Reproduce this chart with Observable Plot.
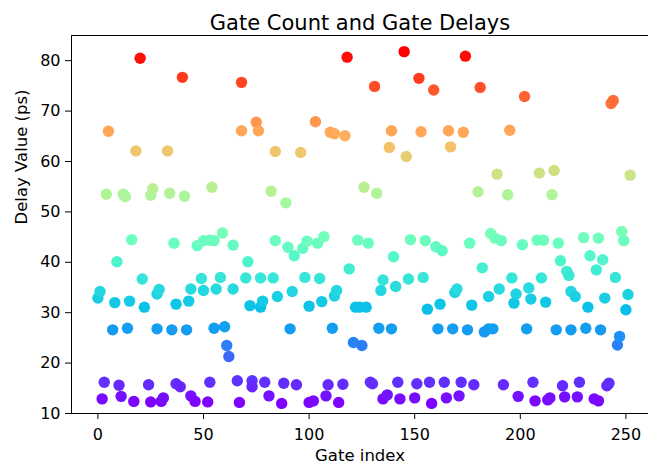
<!DOCTYPE html>
<html>
<head>
<meta charset="utf-8">
<script src="https://cdn.jsdelivr.net/npm/d3@7"></script>
<script src="https://cdn.jsdelivr.net/npm/@observablehq/plot@0.6"></script>
<style>
  html, body { margin: 0; padding: 0; background: #fff; overflow: hidden; }
  svg { display: block; }
</style>
</head>
<body>
<div id="chart"></div>
<script>
const titleText = "Gate Count and Gate Delays";
const xLabel = "Gate index";
const yLabel = "Delay Value (ps)";
const xTicks = [0, 50, 100, 150, 200, 250];
const yTicks = [10, 20, 30, 40, 50, 60, 70, 80];

const gateIndex = [
  0, 1, 2, 3, 4, 5, 7, 8, 9, 10, 11, 12, 13, 14, 15, 16, 17, 18, 20, 21,
  22, 24, 25, 25, 26, 28, 28, 29, 30, 31, 33, 34, 35, 36, 37, 37, 39, 40, 41, 42,
  43, 44, 44, 46, 47, 49, 50, 50, 52, 53, 53, 54, 55, 55, 56, 58, 59, 60, 61, 62,
  64, 64, 66, 67, 68, 68, 70, 71, 72, 73, 73, 75, 76, 77, 77, 78, 79, 81, 82, 83,
  84, 84, 85, 87, 88, 89, 90, 91, 92, 93, 94, 96, 97, 98, 99, 100, 100, 102, 103, 104,
  105, 106, 107, 108, 109, 110, 111, 112, 112, 113, 114, 116, 117, 118, 119, 121, 122, 123, 124, 125,
  126, 127, 128, 129, 130, 131, 132, 133, 134, 135, 135, 137, 138, 139, 139, 140, 141, 142, 143, 145,
  146, 147, 148, 150, 151, 152, 153, 154, 155, 156, 157, 158, 159, 160, 161, 162, 163, 164, 165, 166,
  167, 168, 169, 170, 171, 172, 173, 174, 175, 176, 177, 178, 180, 181, 182, 183, 185, 185, 186, 187,
  188, 189, 190, 191, 192, 194, 195, 196, 197, 198, 199, 201, 202, 203, 204, 205, 206, 207, 208, 209,
  210, 211, 212, 213, 214, 215, 216, 217, 218, 219, 220, 221, 222, 223, 224, 224, 226, 227, 228, 230,
  231, 232, 233, 235, 236, 237, 237, 238, 239, 240, 241, 242, 243, 244, 245, 246, 247, 248, 249, 250,
  251, 252
];

const delayValue = [
  32.9, 34.2, 12.9, 16.2, 53.5, 66.0, 26.6, 32.0, 40.1, 15.6, 13.4, 53.5, 53.0, 26.9, 32.3, 44.5, 12.4, 62.1, 80.5, 36.7,
  31.1, 15.7, 12.3, 53.3, 54.6, 26.8, 33.7, 34.6, 12.4, 13.1, 62.1, 53.7, 26.6, 43.8, 31.7, 15.9, 15.3, 76.7, 53.1, 26.6,
  32.3, 34.7, 13.5, 12.4, 43.3, 36.8, 34.4, 44.3, 12.3, 16.2, 44.4, 54.9, 44.3, 26.9, 34.7, 37.0, 45.8, 27.2, 23.5, 21.3,
  43.4, 34.7, 16.5, 12.2, 75.7, 66.1, 36.9, 40.1, 31.4, 16.5, 15.3, 67.8, 66.1, 36.9, 31.1, 32.3, 16.2, 13.5, 54.1, 36.9,
  44.3, 62.0, 33.2, 12.0, 16.0, 51.8, 43.0, 26.8, 34.2, 41.3, 15.7, 61.8, 42.8, 37.0, 44.2, 31.3, 12.2, 12.5, 67.9, 43.8,
  36.8, 32.2, 45.1, 13.5, 15.7, 65.8, 26.9, 65.5, 33.3, 34.4, 12.2, 15.8, 65.1, 80.7, 38.7, 24.1, 31.1, 44.4, 31.1, 23.5,
  54.9, 31.1, 43.8, 16.2, 15.9, 74.9, 53.7, 26.9, 34.4, 36.5, 12.9, 13.7, 62.8, 66.1, 26.8, 41.1, 35.2, 16.2, 12.9, 81.8,
  61.0, 36.7, 44.5, 13.1, 15.9, 76.5, 65.9, 37.0, 44.3, 30.7, 16.2, 12.0, 74.2, 43.1, 26.8, 31.7, 42.3, 16.2, 13.1, 66.1,
  62.9, 26.8, 34.0, 34.7, 13.5, 16.2, 65.8, 80.9, 26.6, 43.8, 31.5, 15.7, 54.0, 74.7, 38.9, 26.2, 33.2, 26.8, 45.7, 26.8,
  44.8, 57.5, 34.7, 44.3, 15.7, 53.4, 66.2, 36.9, 31.9, 33.7, 13.4, 43.5, 72.9, 26.8, 34.9, 32.7, 16.2, 12.5, 44.4, 57.7,
  36.9, 44.4, 32.1, 12.7, 13.1, 53.4, 58.2, 26.6, 43.8, 40.3, 15.5, 13.3, 38.2, 37.4, 26.6, 34.2, 33.2, 13.3, 16.2, 44.9,
  26.9, 31.1, 41.3, 12.9, 38.5, 44.8, 12.5, 26.6, 40.5, 32.9, 15.5, 16.0, 71.5, 72.1, 37.0, 23.6, 25.3, 46.1, 44.3, 30.6,
  33.6, 57.3
];

const data = gateIndex.map((g, i) => ({gate: g, delay: delayValue[i]}));

// matplotlib "rainbow" colormap
const mplRainbow = t => {
  const r = Math.max(0, Math.min(1, Math.abs(2 * t - 0.5)));
  const g = Math.max(0, Math.sin(Math.PI * t));
  const b = Math.max(0, Math.cos(Math.PI * t / 2));
  return `rgb(${Math.round(r * 255)},${Math.round(g * 255)},${Math.round(b * 255)})`;
};

const font = "DejaVu Sans, sans-serif";

const chart = Plot.plot({
  width: 648,
  height: 469,
  marginLeft: 71,
  marginRight: 0,
  marginTop: 35,
  marginBottom: 56,
  x: {domain: [-12.5, 260.7]},
  y: {domain: [10, 85]},
  color: {type: "linear", domain: d3.extent(delayValue), interpolate: mplRainbow},
  style: {fontFamily: font, fontSize: "16px", color: "#000", background: "#fff", overflow: "visible"},
  marks: [
    Plot.dot(data, {x: "gate", y: "delay", fill: "delay", r: 5.7, stroke: "none"}),
    Plot.axisX({ticks: xTicks, tickSize: 6, tickPadding: 9, label: null, fontSize: 16, stroke: "#000"}),
    Plot.axisY({ticks: yTicks, tickSize: 6, tickPadding: 5, label: null, fontSize: 16, stroke: "#000"}),
    Plot.ruleX([-12.5], {stroke: "#000", strokeWidth: 1}),
    Plot.ruleY([10], {stroke: "#000", strokeWidth: 1}),
    Plot.ruleY([85], {stroke: "#000", strokeWidth: 1}),
    Plot.text([titleText], {frameAnchor: "top", dy: -20, fontSize: 21, fill: "#000", fontFamily: font}),
    Plot.text([xLabel], {frameAnchor: "bottom", dy: 47, fontSize: 16.5, fill: "#000", fontFamily: font}),
    Plot.text([yLabel], {frameAnchor: "left", dx: -50, rotate: -90, fontSize: 16.5, fill: "#000", fontFamily: font})
  ]
});
document.getElementById("chart").appendChild(chart);
</script>
</body>
</html>
